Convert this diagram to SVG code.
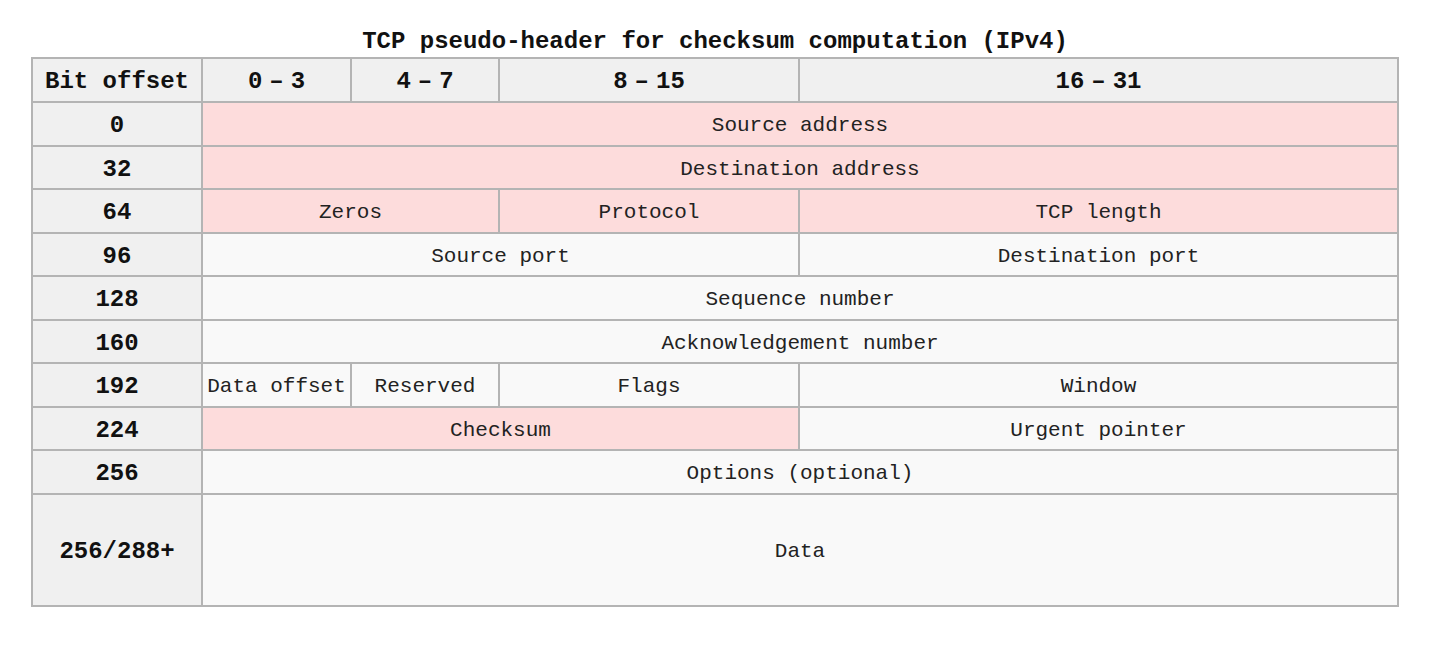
<svg xmlns="http://www.w3.org/2000/svg" width="1441" height="656" viewBox="0 0 1441 656">
<style>
.hd{fill:#f0f0f0;stroke:#b4b4b4;stroke-width:2}
.cl{fill:#f9f9f9;stroke:#b4b4b4;stroke-width:2}
.pk{fill:#fddcdc;stroke:#b4b4b4;stroke-width:2}
.b{font-family:"Liberation Mono","DejaVu Sans Mono",monospace;font-weight:bold;font-size:24px;fill:#111;text-anchor:middle}
.r{font-family:"Liberation Mono","DejaVu Sans Mono",monospace;font-size:21px;fill:#222;text-anchor:middle}
</style>
<rect width="1441" height="656" fill="#ffffff"/>
<text id="title" class="b" x="715" y="48">TCP pseudo-header for checksum computation (IPv4)</text>
<g id="header">
<g id="h-bitoffset"><rect class="hd" x="32" y="58" width="170" height="44"/><text class="b" x="117" y="88">Bit offset</text></g>
<g id="h-0-3"><rect class="hd" x="202" y="58" width="149" height="44"/><text class="b" x="276.5" y="88"><tspan>0</tspan><tspan dx="7">–</tspan><tspan dx="7">3</tspan></text></g>
<g id="h-4-7"><rect class="hd" x="351" y="58" width="148" height="44"/><text class="b" x="425" y="88"><tspan>4</tspan><tspan dx="7">–</tspan><tspan dx="7">7</tspan></text></g>
<g id="h-8-15"><rect class="hd" x="499" y="58" width="300" height="44"/><text class="b" x="649" y="88"><tspan>8</tspan><tspan dx="7">–</tspan><tspan dx="7">15</tspan></text></g>
<g id="h-16-31"><rect class="hd" x="799" y="58" width="599" height="44"/><text class="b" x="1098.5" y="88"><tspan>16</tspan><tspan dx="7">–</tspan><tspan dx="7">31</tspan></text></g>
</g>
<g id="offsets">
<g id="o0"><rect class="hd" x="32" y="102" width="170" height="44"/><text class="b" x="117" y="132">0</text></g>
<g id="o32"><rect class="hd" x="32" y="146" width="170" height="43"/><text class="b" x="117" y="175.5">32</text></g>
<g id="o64"><rect class="hd" x="32" y="189" width="170" height="44"/><text class="b" x="117" y="219">64</text></g>
<g id="o96"><rect class="hd" x="32" y="233" width="170" height="43"/><text class="b" x="117" y="262.5">96</text></g>
<g id="o128"><rect class="hd" x="32" y="276" width="170" height="44"/><text class="b" x="117" y="306">128</text></g>
<g id="o160"><rect class="hd" x="32" y="320" width="170" height="43"/><text class="b" x="117" y="349.5">160</text></g>
<g id="o192"><rect class="hd" x="32" y="363" width="170" height="44"/><text class="b" x="117" y="393">192</text></g>
<g id="o224"><rect class="hd" x="32" y="407" width="170" height="43"/><text class="b" x="117" y="436.5">224</text></g>
<g id="o256"><rect class="hd" x="32" y="450" width="170" height="44"/><text class="b" x="117" y="480">256</text></g>
<g id="o288"><rect class="hd" x="32" y="494" width="170" height="112"/><text class="b" x="117" y="558">256/288+</text></g>
</g>
<g id="fields">
<g id="source-address"><rect class="pk" x="202" y="102" width="1196" height="44"/><text class="r" x="800" y="131">Source address</text></g>
<g id="destination-address"><rect class="pk" x="202" y="146" width="1196" height="43"/><text class="r" x="800" y="174.5">Destination address</text></g>
<g id="zeros"><rect class="pk" x="202" y="189" width="297" height="44"/><text class="r" x="350.5" y="218">Zeros</text></g>
<g id="protocol"><rect class="pk" x="499" y="189" width="300" height="44"/><text class="r" x="649" y="218">Protocol</text></g>
<g id="tcp-length"><rect class="pk" x="799" y="189" width="599" height="44"/><text class="r" x="1098.5" y="218">TCP length</text></g>
<g id="source-port"><rect class="cl" x="202" y="233" width="597" height="43"/><text class="r" x="500.5" y="261.5">Source port</text></g>
<g id="destination-port"><rect class="cl" x="799" y="233" width="599" height="43"/><text class="r" x="1098.5" y="261.5">Destination port</text></g>
<g id="sequence-number"><rect class="cl" x="202" y="276" width="1196" height="44"/><text class="r" x="800" y="305">Sequence number</text></g>
<g id="ack-number"><rect class="cl" x="202" y="320" width="1196" height="43"/><text class="r" x="800" y="348.5">Acknowledgement number</text></g>
<g id="data-offset"><rect class="cl" x="202" y="363" width="149" height="44"/><text class="r" x="276.5" y="392">Data offset</text></g>
<g id="reserved"><rect class="cl" x="351" y="363" width="148" height="44"/><text class="r" x="425" y="392">Reserved</text></g>
<g id="flags"><rect class="cl" x="499" y="363" width="300" height="44"/><text class="r" x="649" y="392">Flags</text></g>
<g id="window"><rect class="cl" x="799" y="363" width="599" height="44"/><text class="r" x="1098.5" y="392">Window</text></g>
<g id="checksum"><rect class="pk" x="202" y="407" width="597" height="43"/><text class="r" x="500.5" y="435.5">Checksum</text></g>
<g id="urgent-pointer"><rect class="cl" x="799" y="407" width="599" height="43"/><text class="r" x="1098.5" y="435.5">Urgent pointer</text></g>
<g id="options"><rect class="cl" x="202" y="450" width="1196" height="44"/><text class="r" x="800" y="479">Options (optional)</text></g>
<g id="data"><rect class="cl" x="202" y="494" width="1196" height="112"/><text class="r" x="800" y="557">Data</text></g>
</g>
<g id="connectors"></g>
</svg>
